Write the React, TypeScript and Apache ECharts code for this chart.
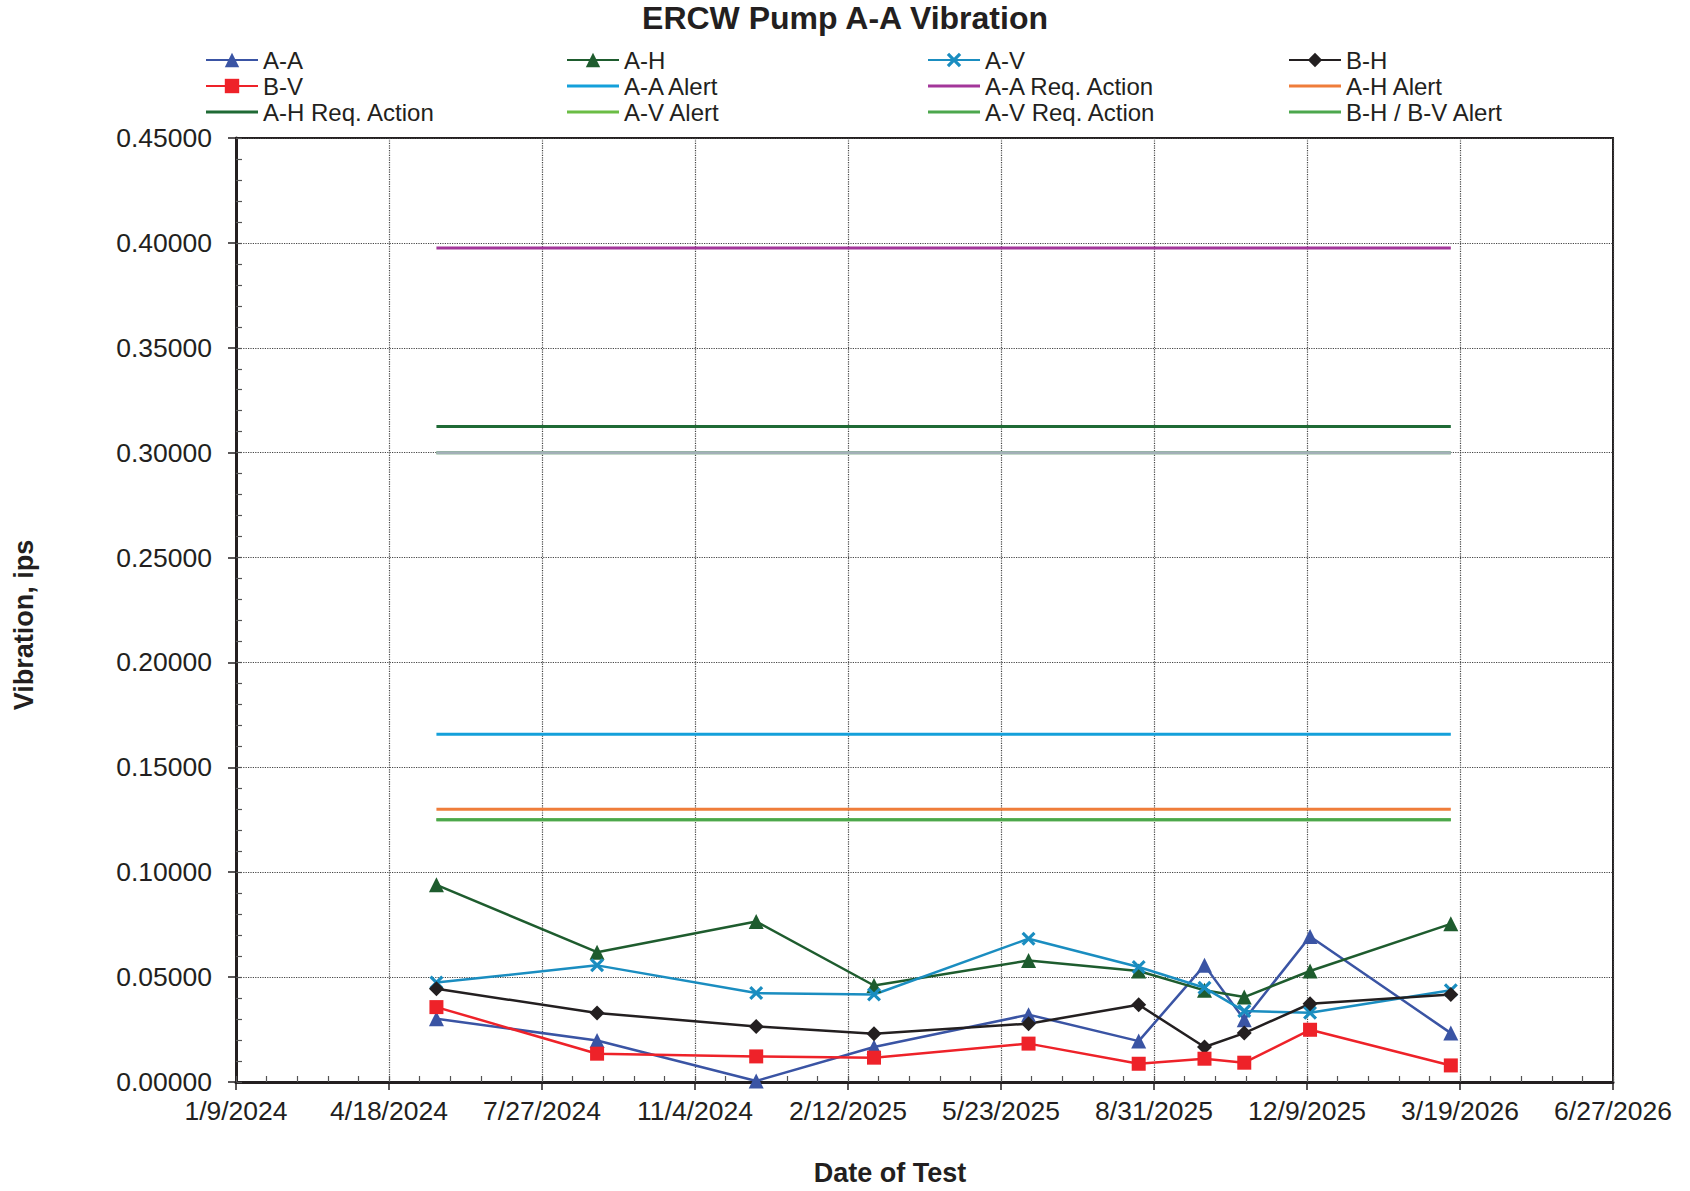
import React, { useEffect, useRef } from "react";
import * as echarts from "echarts";

// ---- Data ----
const origin = "2024-01-09";
const testDates = ["2024-05-19", "2024-09-01", "2024-12-14", "2025-03-01", "2025-06-10", "2025-08-21", "2025-10-03", "2025-10-29", "2025-12-11", "2026-03-13"];
const aA = [0.0302, 0.0198, 0.0005, 0.0167, 0.0321, 0.0195, 0.0556, 0.0297, 0.0694, 0.0233];
const aH = [0.094, 0.0619, 0.0765, 0.046, 0.0579, 0.0529, 0.0437, 0.0405, 0.0529, 0.0754];
const aV = [0.0474, 0.0556, 0.0424, 0.0417, 0.0683, 0.0548, 0.0449, 0.0338, 0.033, 0.0437];
const bH = [0.0444, 0.0329, 0.0265, 0.023, 0.0278, 0.0368, 0.0167, 0.0233, 0.0373, 0.0417];
const bV = [0.0357, 0.0135, 0.0122, 0.0116, 0.0183, 0.0087, 0.0111, 0.0092, 0.0249, 0.0079];

const alertNames = ["A-A Alert", "A-A Req. Action", "A-H Alert", "A-H Req. Action", "A-V Alert", "A-V Req. Action", "B-H / B-V Alert"];
const alertValues = [0.1658, 0.3976, 0.13, 0.3125, 0.125, 0.3, 0.125];
const extraLimitValue = 0.3; // grey limit line, not in legend

const yTicks = { min: 0, max: 0.45, step: 0.05, minor: 0.01 };
const xTicks = { min: 0, max: 900, step: 100, minor: 20 }; // days since origin

const legendColumns = [
  ["A-A", "B-V", "A-H Req. Action"],
  ["A-H", "A-A Alert", "A-V Alert"],
  ["A-V", "A-A Req. Action", "A-V Req. Action"],
  ["B-H", "A-H Alert", "B-H / B-V Alert"],
];

// ---- Helpers ----
const DAY = 86400000;
const toUTC = (s: string) => {
  const [y, m, d] = s.split("-").map(Number);
  return Date.UTC(y, m - 1, d);
};
const dayOf = (s: string) => Math.round((toUTC(s) - toUTC(origin)) / DAY);
const fmtDay = (v: number) => {
  const d = new Date(toUTC(origin) + v * DAY);
  return `${d.getUTCMonth() + 1}/${d.getUTCDate()}/${d.getUTCFullYear()}`;
};

const FONT = "Liberation Sans, Arial, sans-serif";
const INK = "#231f20";

const crossPath = "path://M0,1.6L1.6,0L5,3.4L8.4,0L10,1.6L6.6,5L10,8.4L8.4,10L5,6.6L1.6,10L0,8.4L3.4,5Z";
const lineIcon = "path://M0,0H52V3H0Z";

const dataSeriesDefs = [
  { name: "A-A", values: aA, color: "#3a54a4", symbol: "triangle", size: 15 },
  { name: "A-H", values: aH, color: "#1e5c2e", symbol: "triangle", size: 15 },
  { name: "A-V", values: aV, color: "#1a8dc0", symbol: crossPath, size: 14 },
  { name: "B-H", values: bH, color: INK, symbol: "diamond", size: 15 },
  { name: "B-V", values: bV, color: "#ee2229", symbol: "rect", size: 14 },
];
const alertColors = ["#14a0da", "#a3379a", "#ef7d3a", "#1f6a35", "#6bbd45", "#4ca74d", "#4ca74d"];

export default function App() {
  const ref = useRef<HTMLDivElement>(null);
  useEffect(() => {
    document.body.style.margin = "0";
    const chart = echarts.init(ref.current as HTMLDivElement, null, { renderer: "svg" });
    const days = testDates.map(dayOf);
    const firstDay = days[0];
    const lastDay = days[days.length - 1];

    const series: any[] = [];
    alertNames.forEach((n, i) => {
      series.push({
        name: n,
        type: "line",
        symbol: "none",
        data: [
          [firstDay, alertValues[i]],
          [lastDay, alertValues[i]],
        ],
        lineStyle: { color: alertColors[i], width: 3 },
        itemStyle: { color: alertColors[i] },
        z: 2,
      });
    });
    series.push({
      name: "limit",
      type: "line",
      symbol: "none",
      data: [
        [firstDay, extraLimitValue],
        [lastDay, extraLimitValue],
      ],
      lineStyle: { color: "#a3b0b8", width: 3 },
      z: 3,
    });
    dataSeriesDefs.forEach((s) => {
      series.push({
        name: s.name,
        type: "line",
        symbol: s.symbol,
        symbolSize: s.size,
        showAllSymbol: true,
        data: days.map((d, i) => [d, s.values[i]]),
        lineStyle: { color: s.color, width: 2.5 },
        itemStyle: { color: s.color },
        z: 5,
      });
    });

    const legendLefts = [205, 566, 927, 1288];

    chart.setOption({
      animation: false,
      backgroundColor: "#ffffff",
      title: {
        text: "ERCW Pump A-A Vibration",
        left: "center",
        top: -3,
        textStyle: { fontFamily: FONT, fontSize: 32, fontWeight: "bold", color: INK },
      },
      legend: legendColumns.map((col, i) => ({
        data: col.map((n) => (alertNames.includes(n) ? { name: n, icon: lineIcon } : { name: n })),
        orient: "vertical",
        left: legendLefts[i],
        top: 47,
        itemWidth: 52,
        itemHeight: 18,
        itemGap: 0,
        padding: 0,
        selectedMode: false,
        textStyle: { fontFamily: FONT, fontSize: 24, lineHeight: 26, color: INK },
      })),
      grid: {
        left: 236,
        right: 77,
        top: 138,
        bottom: 109,
        show: true,
        borderColor: INK,
        borderWidth: 2,
        backgroundColor: "transparent",
      },
      xAxis: [
        {
          type: "value",
          min: xTicks.min,
          max: xTicks.max,
          interval: xTicks.step,
          axisLine: { show: true, lineStyle: { color: INK, width: 3 } },
          axisTick: { show: true, inside: false, length: 8, lineStyle: { color: INK, width: 1.5 } },
          axisLabel: { formatter: fmtDay, fontFamily: FONT, fontSize: 26.5, color: INK, margin: 15, showMaxLabel: true, showMinLabel: true },
          splitLine: { show: true, lineStyle: { color: "#444", type: "dotted", width: 1.2 } },
        },
        {
          type: "value",
          position: "bottom",
          min: xTicks.min,
          max: xTicks.max,
          interval: xTicks.minor,
          axisLine: { show: false },
          axisTick: { show: true, inside: true, length: 6, lineStyle: { color: "#555", width: 1.2 } },
          axisLabel: { show: false },
          splitLine: { show: false },
        },
      ],
      yAxis: [
        {
          type: "value",
          min: yTicks.min,
          max: yTicks.max,
          interval: yTicks.step,
          axisLine: { show: true, lineStyle: { color: INK, width: 3 } },
          axisTick: { show: true, inside: false, length: 8, lineStyle: { color: INK, width: 1.5 } },
          axisLabel: { formatter: (v: number) => v.toFixed(5), fontFamily: FONT, fontSize: 26.5, color: INK, margin: 24 },
          splitLine: { show: true, lineStyle: { color: "#444", type: "dotted", width: 1.2 } },
        },
        {
          type: "value",
          position: "left",
          min: yTicks.min,
          max: yTicks.max,
          interval: yTicks.minor,
          axisLine: { show: false },
          axisTick: { show: true, inside: true, length: 6, lineStyle: { color: "#555", width: 1.2 } },
          axisLabel: { show: false },
          splitLine: { show: false },
        },
      ],
      graphic: [
        {
          type: "text",
          x: 24,
          y: 625,
          rotation: Math.PI / 2,
          style: { text: "Vibration, ips", font: `bold 27px ${FONT}`, fill: INK, align: "center", verticalAlign: "middle" },
        },
        {
          type: "text",
          x: 890,
          y: 1173,
          style: { text: "Date of Test", font: `bold 27px ${FONT}`, fill: INK, align: "center", verticalAlign: "middle" },
        },
      ],
      series,
    });
    return () => chart.dispose();
  }, []);
  return <div ref={ref} style={{ width: 1690, height: 1191 }} />;
}
